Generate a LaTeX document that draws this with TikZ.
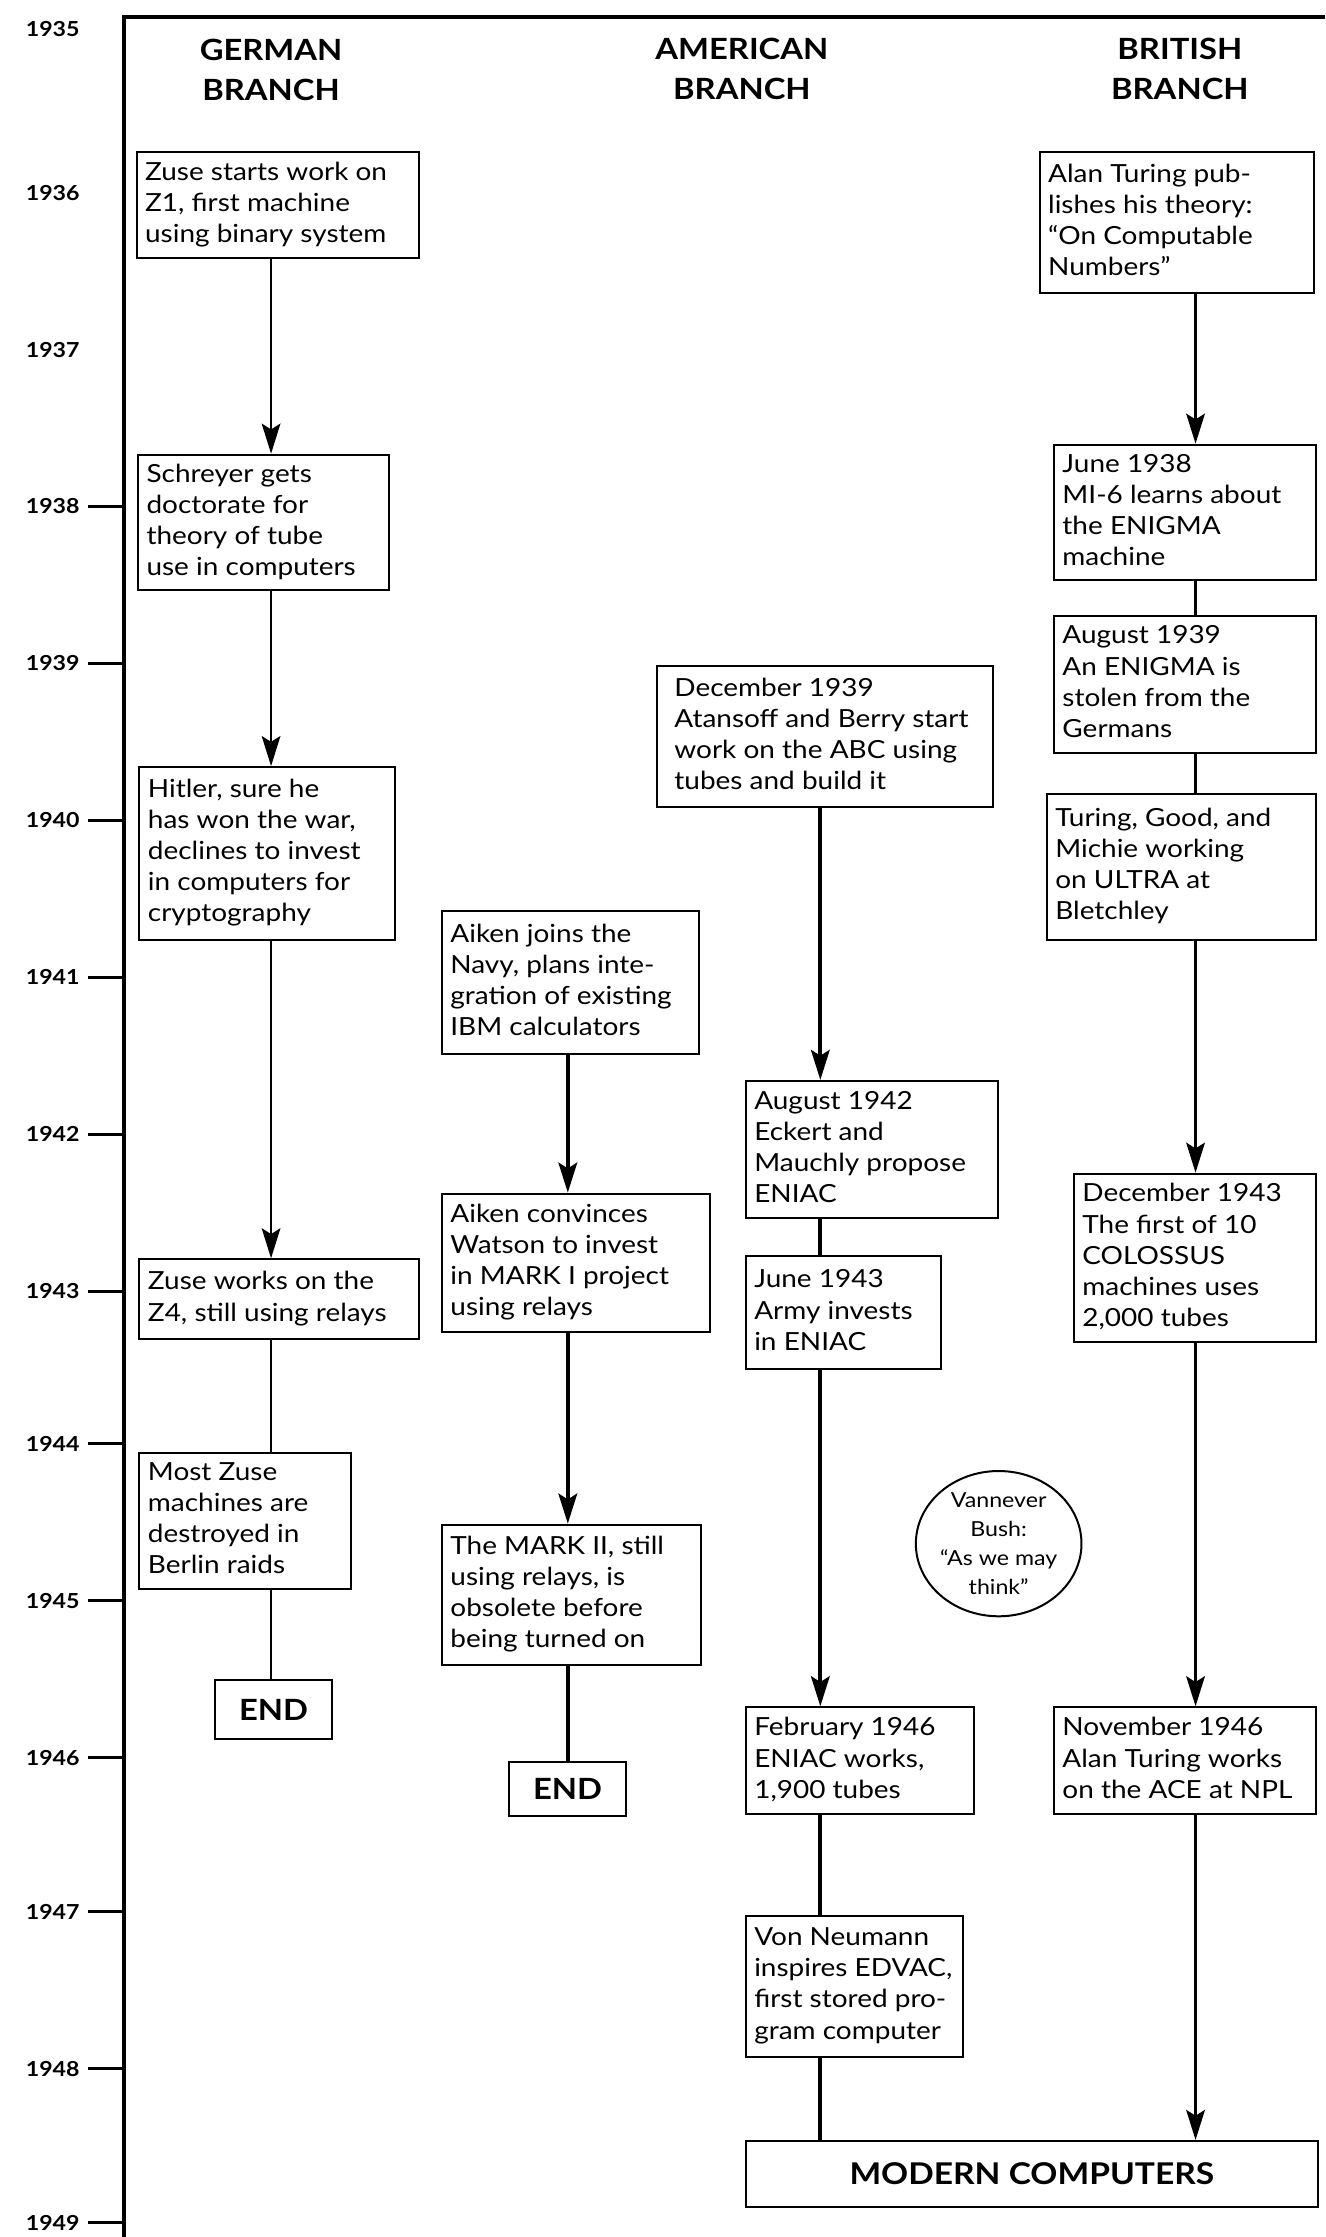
\documentclass[tikz,border=0pt]{standalone}
\usepackage{fontspec}
\setmainfont{Lato}[FakeStretch=1.12]
\usetikzlibrary{arrows.meta,shapes.geometric}
\newcommand\lb[2]{\makebox[#1][l]{\begin{tabular}{@{}l@{}}#2\end{tabular}}}
\begin{document}
\begin{tikzpicture}[x=1pt,y=-1pt,
  box/.style={draw, line width=1.4pt, anchor=north west, inner xsep=6pt, inner ysep=2pt, font=\fontsize{17.5}{21.8}\selectfont},
  endbox/.style={draw, line width=1.6pt, anchor=north west, inner sep=0pt, font=\fontsize{20.5}{22}\selectfont\bfseries},
  arr/.style={-{Stealth[length=21pt,width=13pt,inset=4pt]}, line width=2.4pt},
  lin/.style={line width=2.4pt},
  year/.style={anchor=east, inner sep=0pt, font=\fontsize{14.5}{18}\selectfont\bfseries},
  yeartick/.style={line width=2pt},
  head/.style={align=center, font=\fontsize{20.5}{28}\selectfont\bfseries},
  frame/.style={line width=3pt}]
\useasboundingbox (0,0) rectangle (929,1568);

% frame
\coordinate (ftl) at (87,12);
\coordinate (ftr) at (929,12);
\coordinate (fbl) at (87,1568);
\draw[frame] (ftr) -- (ftl) -- (fbl);

% years
\node[year] (y1935) at (56,20) {1935};
\node[year] (y1936) at (56,135) {1936};
\node[year] (y1937) at (56,245) {1937};
\node[year] (y1938) at (56,355) {1938};
\node[year] (y1939) at (56,465) {1939};
\node[year] (y1940) at (56,575) {1940};
\node[year] (y1941) at (56,685) {1941};
\node[year] (y1942) at (56,795) {1942};
\node[year] (y1943) at (56,905) {1943};
\node[year] (y1944) at (56,1012) {1944};
\node[year] (y1945) at (56,1122) {1945};
\node[year] (y1946) at (56,1232) {1946};
\node[year] (y1947) at (56,1340) {1947};
\node[year] (y1948) at (56,1450) {1948};
\node[year] (y1949) at (56,1558) {1949};
\foreach \y in {1938,...,1949}{
  \draw[yeartick] ([xshift=6pt]y\y.east) -- (y\y.east -| fbl);
}

% headers
\node[head] (hg) at (190,49) {GERMAN\\BRANCH};
\node[head] (ha) at (520,48) {AMERICAN\\BRANCH};
\node[head] (hb) at (827,48) {BRITISH\\BRANCH};

% German branch
\node[box, minimum height=74pt] (G1) at (95,106) {\lb{186pt}{Zuse starts work on\\Z1, first machine\\using binary system}};
\node[box, minimum height=95pt] (G2) at (96,318) {\lb{164pt}{Schreyer gets\\doctorate for\\theory of tube\\use in computers}};
\node[box, minimum height=121pt] (G3) at (97,537) {\lb{167pt}{Hitler, sure he\\has won the war,\\declines to invest\\in computers for\\cryptography}};
\node[box, minimum height=56pt] (G4) at (97,882) {\lb{184pt}{Zuse works on the\\Z4, still using relays}};
\node[box, minimum height=95pt] (G5) at (97,1018) {\lb{136pt}{Most Zuse\\machines are\\destroyed in\\Berlin raids}};
\node[endbox, minimum width=82pt, minimum height=41pt] (G6) at (150,1177) {END};

% American branch (Aiken)
\node[box, minimum height=100pt] (A1) at (309,638) {\lb{168pt}{Aiken joins the\\Navy, plans inte-\\gration of existing\\IBM calculators}};
\node[box, minimum height=97pt] (A2) at (309,836) {\lb{176pt}{Aiken convinces\\Watson to invest\\in MARK I project\\using relays}};
\node[box, minimum height=98pt] (A3) at (309,1068) {\lb{170pt}{The MARK II, still\\using relays, is\\obsolete before\\being turned on}};
\node[endbox, minimum width=82pt, minimum height=38pt] (A4) at (356,1234) {END};

% American branch (ENIAC)
\node[box, minimum height=99pt] (B1) at (460,466) {\hspace*{6pt}\lb{217pt}{December 1939\\Atansoff and Berry start\\work on the ABC using\\tubes and build it}};
\node[box, minimum height=96pt] (B2) at (522,757) {\lb{165pt}{August 1942\\Eckert and\\Mauchly propose\\ENIAC}};
\node[box, minimum height=79pt] (B3) at (522,880) {\lb{125pt}{June 1943\\Army invests\\in ENIAC}};
\node[box, minimum height=75pt] (B4) at (522,1196) {\lb{148pt}{February 1946\\ENIAC works,\\1,900 tubes}};
\node[box, minimum height=99pt] (B5) at (522,1342) {\lb{140pt}{Von Neumann\\inspires EDVAC,\\first stored pro-\\gram computer}};
\node[endbox, minimum width=401pt, minimum height=46pt, font=\fontsize{21}{22}\selectfont\bfseries] (MC) at (522,1500) {MODERN COMPUTERS};

% Vannever Bush
\node[draw, ellipse, line width=1.4pt, minimum width=104pt, minimum height=94pt, inner sep=0pt, align=center, font=\fontsize{14.5}{20.5}\selectfont] (VB) at (700,1082) {Vannever\\Bush:\\“As we may\\think”};

% British branch
\node[box, minimum height=99pt] (C1) at (728,106) {\lb{180pt}{Alan Turing pub-\\lishes his theory:\\“On Computable\\Numbers”}};
\node[box, minimum height=95pt] (C2) at (738,311) {\lb{172pt}{June 1938\\MI-6 learns about\\the ENIGMA\\machine}};
\node[box, minimum height=96pt] (C3) at (738,431) {\lb{172pt}{August 1939\\An ENIGMA is\\stolen from the\\Germans}};
\node[box, minimum height=102pt] (C4) at (733,556) {\lb{177pt}{Turing, Good, and\\Michie working\\on ULTRA at\\Bletchley}};
\node[box, minimum height=118pt] (C5) at (752,822) {\lb{158pt}{December 1943\\The first of 10\\COLOSSUS\\machines uses\\2,000 tubes}};
\node[box, minimum height=75pt] (C6) at (738,1196) {\lb{172pt}{November 1946\\Alan Turing works\\on the ACE at NPL}};

% connector columns
\coordinate (gx) at (190,0);
\coordinate (ax) at (398,0);
\coordinate (bx) at (575,0);
\coordinate (cx) at (838,0);

\draw[arr, line width=2pt] (G1.south -| gx) -- (G2.north -| gx);
\draw[arr, line width=2pt] (G2.south -| gx) -- (G3.north -| gx);
\draw[arr, line width=2pt] (G3.south -| gx) -- (G4.north -| gx);
\draw[lin, line width=2pt] (G4.south -| gx) -- (G5.north -| gx);
\draw[lin, line width=2pt] (G5.south -| gx) -- (G6.north -| gx);

\draw[arr, line width=3pt] (A1.south -| ax) -- (A2.north -| ax);
\draw[arr, line width=3pt] (A2.south -| ax) -- (A3.north -| ax);
\draw[lin, line width=2.6pt] (A3.south -| ax) -- (A4.north -| ax);

\draw[arr, line width=3pt] (B1.south -| bx) -- (B2.north -| bx);
\draw[lin, line width=3pt] (B2.south -| bx) -- (B3.north -| bx);
\draw[arr, line width=3pt] (B3.south -| bx) -- (B4.north -| bx);
\draw[lin, line width=2.6pt] (B4.south -| bx) -- (B5.north -| bx);
\draw[lin, line width=2.6pt] (B5.south -| bx) -- (MC.north -| bx);

\draw[arr] (C1.south -| cx) -- (C2.north -| cx);
\draw[lin] (C2.south -| cx) -- (C3.north -| cx);
\draw[lin] (C3.south -| cx) -- (C4.north -| cx);
\draw[arr] (C4.south -| cx) -- (C5.north -| cx);
\draw[arr] (C5.south -| cx) -- (C6.north -| cx);
\draw[arr] (C6.south -| cx) -- (MC.north -| cx);
\end{tikzpicture}
\end{document}
